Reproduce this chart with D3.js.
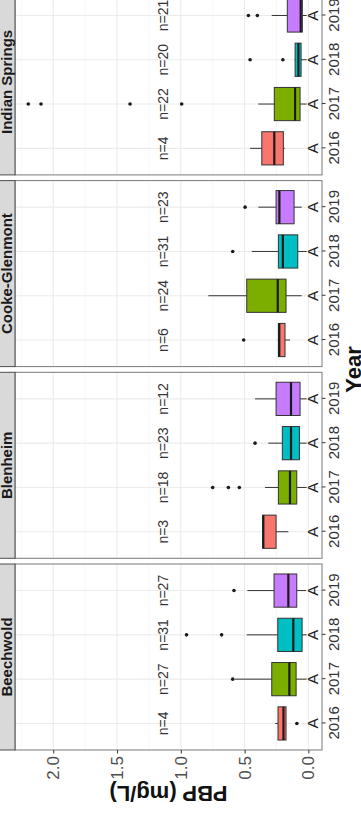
<!DOCTYPE html>
<html>
<head>
<meta charset="utf-8">
<script src="https://cdn.jsdelivr.net/npm/d3@7/dist/d3.min.js"></script>
<style>
  html, body { margin: 0; padding: 0; background: #fff; }
  svg { display: block; }
  text { font-family: "Liberation Sans", Arial, Helvetica, sans-serif; }
</style>
</head>
<body>
<svg id="chart" width="361" height="814"></svg>
<script>
// PBP concentration by year, faceted by site (box plots).
const sites = ["Beechwold", "Blenheim", "Cooke-Glenmont", "Indian Springs"];
const years = ["2016", "2017", "2018", "2019"];
const yTicks = [0, 0.5, 1.0, 1.5, 2.0];
const yMinorTicks = [0.25, 0.75, 1.25, 1.75, 2.25];

// Box statistics per site (rows) and year (columns), mg/L
const lowerWhisker = [
  [0.175, 0.013, 0.013, 0.018],
  [0.157, 0.013, 0.013, 0.013],
  [0.144, 0.052, 0.013, 0.052],
  [0.185, 0.013, 0.013, 0.013]
];
const q1 = [
  [0.175, 0.096, 0.049, 0.091],
  [0.253, 0.091, 0.070, 0.065],
  [0.183, 0.175, 0.083, 0.112],
  [0.196, 0.065, 0.057, 0.047]
];
const median = [
  [0.195, 0.149, 0.118, 0.157],
  [0.353, 0.144, 0.136, 0.136],
  [0.228, 0.240, 0.200, 0.227],
  [0.267, 0.104, 0.078, 0.060]
];
const q3 = [
  [0.238, 0.287, 0.240, 0.269],
  [0.358, 0.235, 0.204, 0.253],
  [0.235, 0.483, 0.235, 0.253],
  [0.365, 0.267, 0.104, 0.165]
];
const upperWhisker = [
  [0.260, 0.575, 0.483, 0.478],
  [0.358, 0.340, 0.314, 0.418],
  [0.240, 0.784, 0.444, 0.392],
  [0.457, 0.392, 0.108, 0.287]
];
const outliers = [
  [[0.09], [0.593], [0.68, 0.955], [0.583]],
  [[], [0.541, 0.627, 0.75], [0.418], []],
  [[0.507], [], [0.593], [0.496]],
  [[], [0.993, 1.398, 2.096, 2.196], [0.20, 0.457], [0.40, 0.47]]
];
const nCounts = [
  [4, 27, 31, 27],
  [3, 18, 23, 12],
  [6, 24, 31, 23],
  [4, 22, 20, 21]
];
const groupLetters = [
  ["A", "A", "A", "A"],
  ["A", "A", "A", "A"],
  ["A", "A", "A", "A"],
  ["A", "A", "A", "A"]
];
const yearColors = ["#F8766D", "#7CAE00", "#00BFC4", "#C77CFF"];

// Layout (the plot is laid out landscape, then turned a quarter turn)
const PAGE_W = 814;
const panelW = 186, panelGap = 5.7, panelLeft = 64;
const panelTop = 15, panelBottom = 322;
const stripTop = -14;

const svg = d3.select("#chart");
const root = svg.append("g").attr("transform", `translate(0,${PAGE_W}) rotate(-90)`);

const y = d3.scaleLinear().domain([-0.107, 2.30]).range([panelBottom, panelTop]);
const color = d3.scaleOrdinal().domain(years).range(yearColors);

const facetX = d3.scaleOrdinal().domain(sites)
  .range(sites.map((s, i) => panelLeft + i * (panelW + panelGap)));

sites.forEach((site, si) => {
  const x0 = facetX(site);
  const x = d3.scalePoint().domain(years).range([x0, x0 + panelW]).padding(0.6);
  const boxW = x.step() * 0.75;
  const g = root.append("g");

  // panel background
  g.append("rect").attr("x", x0).attr("y", panelTop)
    .attr("width", panelW).attr("height", panelBottom - panelTop)
    .attr("fill", "#fff");

  // grid
  g.selectAll(".minor").data(yMinorTicks).join("line")
    .attr("x1", x0).attr("x2", x0 + panelW)
    .attr("y1", d => y(d)).attr("y2", d => y(d))
    .attr("stroke", "#f2f2f2").attr("stroke-width", 0.6);
  g.selectAll(".major").data(yTicks).join("line")
    .attr("x1", x0).attr("x2", x0 + panelW)
    .attr("y1", d => y(d)).attr("y2", d => y(d))
    .attr("stroke", "#ebebeb").attr("stroke-width", 1.1);
  g.selectAll(".vgrid").data(years).join("line")
    .attr("x1", d => x(d)).attr("x2", d => x(d))
    .attr("y1", panelTop).attr("y2", panelBottom)
    .attr("stroke", "#ebebeb").attr("stroke-width", 1.1);

  years.forEach((yr, yi) => {
    const cx = x(yr);
    const bg = g.append("g");
    // whiskers
    bg.append("line").attr("x1", cx).attr("x2", cx)
      .attr("y1", y(upperWhisker[si][yi])).attr("y2", y(q3[si][yi]))
      .attr("stroke", "#333").attr("stroke-width", 1);
    bg.append("line").attr("x1", cx).attr("x2", cx)
      .attr("y1", y(q1[si][yi])).attr("y2", y(lowerWhisker[si][yi]))
      .attr("stroke", "#333").attr("stroke-width", 1);
    // box
    bg.append("rect").attr("x", cx - boxW / 2).attr("width", boxW)
      .attr("y", y(q3[si][yi])).attr("height", y(q1[si][yi]) - y(q3[si][yi]))
      .attr("fill", color(yr)).attr("stroke", "#333").attr("stroke-width", 1);
    // median
    bg.append("line").attr("x1", cx - boxW / 2).attr("x2", cx + boxW / 2)
      .attr("y1", y(median[si][yi])).attr("y2", y(median[si][yi]))
      .attr("stroke", "#1a1a1a").attr("stroke-width", 2.2);
    // outliers
    bg.selectAll("circle").data(outliers[si][yi]).join("circle")
      .attr("cx", cx).attr("cy", d => y(d)).attr("r", 1.8).attr("fill", "#1a1a1a");
    // sample size
    g.append("text").attr("x", cx).attr("y", y(1.137))
      .attr("text-anchor", "middle").attr("dominant-baseline", "central")
      .attr("font-size", 14).attr("fill", "#333").text("n=" + nCounts[si][yi]);
    // group letter
    g.append("text").attr("x", cx).attr("y", y(-0.034))
      .attr("text-anchor", "middle").attr("dominant-baseline", "central")
      .attr("font-size", 15.5).attr("fill", "#222").text(groupLetters[si][yi]);
  });

  // panel border
  g.append("rect").attr("x", x0).attr("y", panelTop)
    .attr("width", panelW).attr("height", panelBottom - panelTop)
    .attr("fill", "none").attr("stroke", "#7a7a7a").attr("stroke-width", 1);

  // strip
  g.append("rect").attr("x", x0).attr("y", stripTop)
    .attr("width", panelW).attr("height", panelTop - stripTop)
    .attr("fill", "#d9d9d9").attr("stroke", "#4d4d4d").attr("stroke-width", 1);
  g.append("text").attr("x", x0 + panelW / 2).attr("y", 11.8)
    .attr("text-anchor", "middle").attr("font-size", 15).attr("font-weight", "bold")
    .attr("fill", "#1a1a1a").text(site);

  // x axis
  const xAxis = d3.axisBottom(x).tickSize(3.5).tickPadding(3);
  const xa = g.append("g").attr("transform", `translate(0,${panelBottom})`).call(xAxis);
  xa.select(".domain").remove();
  xa.selectAll(".tick line").attr("stroke", "#333");
  xa.selectAll(".tick text").attr("font-size", 15).attr("fill", "#333")
    .attr("font-family", "\"Liberation Sans\", Arial, sans-serif");
});

// y axis (left of first panel)
const yAxis = d3.axisLeft(y).tickValues(yTicks).tickFormat(d3.format(".1f")).tickSize(3.5).tickPadding(2.5);
const ya = root.append("g").attr("transform", `translate(${panelLeft},0)`).call(yAxis);
ya.select(".domain").remove();
ya.selectAll(".tick line").attr("stroke", "#333");
ya.selectAll(".tick text").attr("font-size", 17).attr("fill", "#4d4d4d")
  .attr("font-family", "\"Liberation Sans\", Arial, sans-serif");

// axis titles
const plotRight = panelLeft + sites.length * panelW + (sites.length - 1) * panelGap;
root.append("text").attr("x", (panelLeft + plotRight) / 2).attr("y", 361)
  .attr("text-anchor", "middle").attr("font-size", 22).attr("font-weight", "bold")
  .attr("fill", "#111").text("Year");
root.append("text")
  .attr("transform", `translate(28,${(panelTop + panelBottom) / 2}) rotate(-90)`)
  .attr("text-anchor", "middle").attr("font-size", 22).attr("font-weight", "bold")
  .attr("fill", "#111").text("PBP (mg/L)");
</script>
</body>
</html>
